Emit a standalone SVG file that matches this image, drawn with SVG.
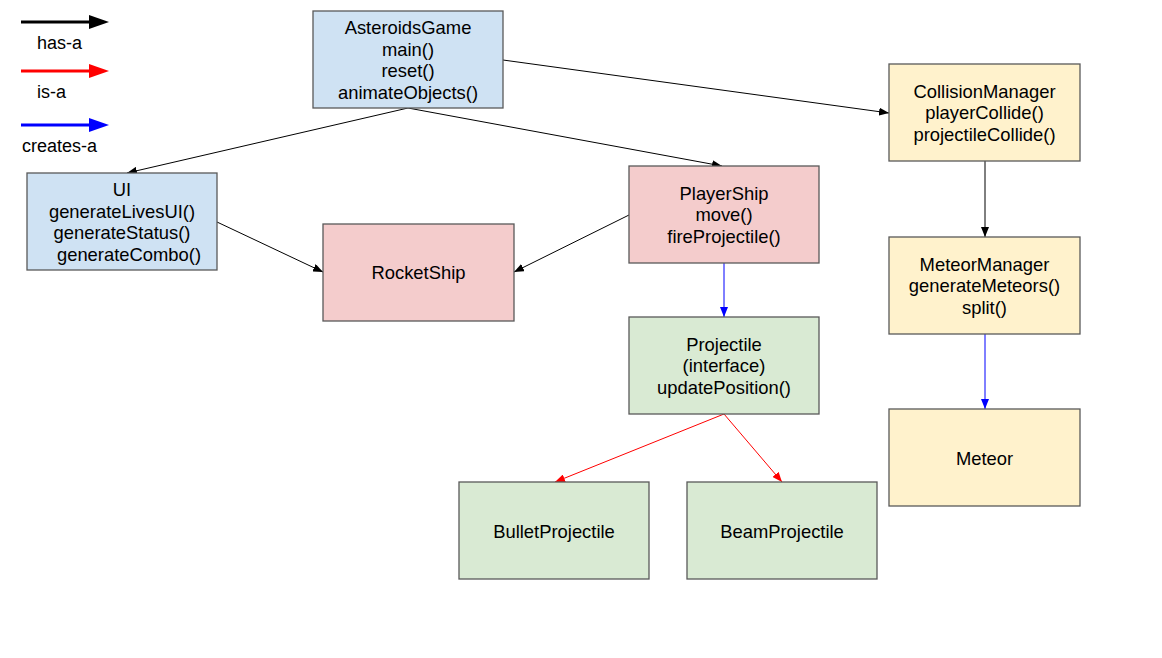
<svg xmlns="http://www.w3.org/2000/svg" width="1162" height="658" viewBox="0 0 1162 658">
<style>
.box{stroke:#595959;stroke-width:1.3}
.blue{fill:#cfe2f3}.red{fill:#f4cccc}.green{fill:#d9ead3}.yellow{fill:#fff2cc}
text{font-family:"Liberation Sans",Arial,sans-serif;font-size:18.4px;fill:#000;text-anchor:middle}
.leg{text-anchor:start;font-size:18px}
.c{fill:none;stroke-width:1}
</style>
<defs>
<marker id="ak" markerUnits="userSpaceOnUse" markerWidth="10" markerHeight="8" viewBox="0 0 10 8" refX="10" refY="4" orient="auto"><path d="M0,0 L10,4 L0,8 z" fill="#000"/></marker>
<marker id="ar" markerUnits="userSpaceOnUse" markerWidth="10" markerHeight="8" viewBox="0 0 10 8" refX="10" refY="4" orient="auto"><path d="M0,0 L10,4 L0,8 z" fill="#ff0000"/></marker>
<marker id="ab" markerUnits="userSpaceOnUse" markerWidth="10" markerHeight="8" viewBox="0 0 10 8" refX="10" refY="4" orient="auto"><path d="M0,0 L10,4 L0,8 z" fill="#0000ff"/></marker>
</defs>
<rect width="1162" height="658" fill="#fff"/>
<g id="legend">
<line x1="21" y1="22" x2="90" y2="22" stroke="#000" stroke-width="3"/>
<path d="M89,15 L109,22 L89,29 z" fill="#000"/>
<text class="leg" x="37" y="49">has-a</text>
<line x1="21" y1="71" x2="90" y2="71" stroke="#ff0000" stroke-width="3"/>
<path d="M89,64 L109,71 L89,78 z" fill="#ff0000"/>
<text class="leg" x="37" y="98">is-a</text>
<line x1="21" y1="125" x2="90" y2="125" stroke="#0000ff" stroke-width="3"/>
<path d="M89,118 L109,125 L89,132 z" fill="#0000ff"/>
<text class="leg" x="22" y="152">creates-a</text>
</g>
<g id="connectors">
<line class="c" stroke="#000" x1="408" y1="108" x2="127" y2="173" marker-end="url(#ak)"/>
<line class="c" stroke="#000" x1="408" y1="108" x2="722" y2="166" marker-end="url(#ak)"/>
<line class="c" stroke="#000" x1="503" y1="60" x2="889" y2="113" marker-end="url(#ak)"/>
<line class="c" stroke="#000" x1="217" y1="222" x2="323" y2="272" marker-end="url(#ak)"/>
<line class="c" stroke="#000" x1="629" y1="215" x2="514" y2="272" marker-end="url(#ak)"/>
<line class="c" stroke="#000" x1="985" y1="161" x2="985" y2="237" marker-end="url(#ak)"/>
<line class="c" stroke="#0000ff" x1="724" y1="263" x2="724" y2="317" marker-end="url(#ab)"/>
<line class="c" stroke="#0000ff" x1="985" y1="334" x2="985" y2="409" marker-end="url(#ab)"/>
<line class="c" stroke="#ff0000" x1="724" y1="414" x2="555" y2="482" marker-end="url(#ar)"/>
<line class="c" stroke="#ff0000" x1="724" y1="414" x2="782" y2="482" marker-end="url(#ar)"/>
</g>
<g id="AsteroidsGame">
<rect class="box blue" x="313" y="11" width="190" height="97"/>
<text x="408" y="34">AsteroidsGame</text>
<text x="408" y="56">main()</text>
<text x="408" y="77">reset()</text>
<text x="408" y="99">animateObjects()</text>
</g>
<g id="UI">
<rect class="box blue" x="27" y="173" width="190" height="97"/>
<text x="122" y="196">UI</text>
<text x="122" y="218">generateLivesUI()</text>
<text x="122" y="239">generateStatus()</text>
<text x="129" y="261">generateCombo()</text>
</g>
<g id="RocketShip">
<rect class="box red" x="323" y="224" width="191" height="97"/>
<text x="418.5" y="279">RocketShip</text>
</g>
<g id="PlayerShip">
<rect class="box red" x="629" y="166" width="190" height="97"/>
<text x="724" y="200">PlayerShip</text>
<text x="724" y="221">move()</text>
<text x="724" y="243">fireProjectile()</text>
</g>
<g id="Projectile">
<rect class="box green" x="629" y="317" width="190" height="97"/>
<text x="724" y="351">Projectile</text>
<text x="724" y="372">(interface)</text>
<text x="724" y="394">updatePosition()</text>
</g>
<g id="BulletProjectile">
<rect class="box green" x="459" y="482" width="190" height="97"/>
<text x="554" y="538">BulletProjectile</text>
</g>
<g id="BeamProjectile">
<rect class="box green" x="687" y="482" width="190" height="97"/>
<text x="782" y="538">BeamProjectile</text>
</g>
<g id="CollisionManager">
<rect class="box yellow" x="889" y="64" width="191" height="97"/>
<text x="984.5" y="98">CollisionManager</text>
<text x="984.5" y="119">playerCollide()</text>
<text x="984.5" y="141">projectileCollide()</text>
</g>
<g id="MeteorManager">
<rect class="box yellow" x="889" y="237" width="191" height="97"/>
<text x="984.5" y="271">MeteorManager</text>
<text x="984.5" y="292">generateMeteors()</text>
<text x="984.5" y="314">split()</text>
</g>
<g id="Meteor">
<rect class="box yellow" x="889" y="409" width="191" height="97"/>
<text x="984.5" y="465">Meteor</text>
</g>
</svg>
